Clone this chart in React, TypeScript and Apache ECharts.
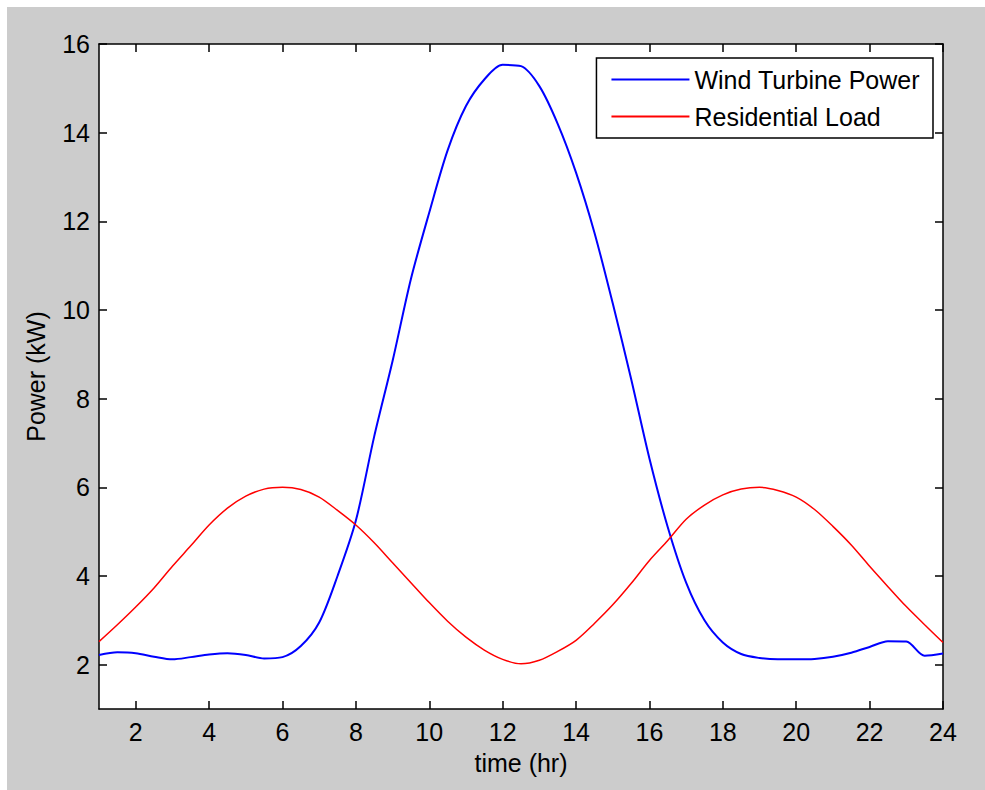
import React, { useEffect, useRef } from "react";
import * as echarts from "echarts";

const hours = [
  1, 1.5, 2, 2.5, 3, 3.5, 4, 4.5, 5, 5.5, 6, 6.5, 7, 7.5, 8, 8.5, 9, 9.5, 10, 10.5, 11, 11.5, 12,
  12.5, 13, 13.5, 14, 14.5, 15, 15.5, 16, 16.5, 17, 17.5, 18, 18.5, 19, 19.5, 20, 20.5, 21, 21.5,
  22, 22.5, 23, 23.5, 24,
];

const windPower = [
  2.22, 2.28, 2.26, 2.18, 2.12, 2.17, 2.23, 2.26, 2.22, 2.14, 2.17, 2.42, 2.95, 4.0, 5.25, 7.15,
  8.85, 10.7, 12.2, 13.6, 14.6, 15.2, 15.53, 15.5, 15.05, 14.2, 13.1, 11.75, 10.15, 8.45, 6.65,
  5.1, 3.85, 3.0, 2.5, 2.24, 2.15, 2.12, 2.12, 2.13, 2.18, 2.27, 2.4, 2.53, 2.52, 2.2, 2.25,
];

const residentialLoad = [
  2.52, 2.9, 3.3, 3.73, 4.22, 4.68, 5.15, 5.53, 5.8, 5.96, 6.0, 5.95, 5.78, 5.48, 5.15, 4.75, 4.3,
  3.85, 3.4, 2.98, 2.62, 2.33, 2.12, 2.02, 2.1, 2.3, 2.55, 2.93, 3.35, 3.83, 4.35, 4.8, 5.28, 5.6,
  5.83, 5.96, 6.0, 5.93, 5.78, 5.5, 5.12, 4.7, 4.22, 3.76, 3.31, 2.9, 2.5,
];

const xTicks = [2, 4, 6, 8, 10, 12, 14, 16, 18, 20, 22, 24];
const yTicks = [2, 4, 6, 8, 10, 12, 14, 16];

const seriesNames = ["Wind Turbine Power", "Residential Load"];

const FONT = "Liberation Sans, Arial, sans-serif";
const FS = 25;

export default function App() {
  const ref = useRef<HTMLDivElement>(null);

  useEffect(() => {
    if (!ref.current) return;
    const chart = echarts.init(ref.current, null, { renderer: "svg" });

    const axisLine = { show: true, lineStyle: { color: "#000", width: 1.5 } };
    const tickStyle = { lineStyle: { color: "#000", width: 1.5 } };

    const xBase = {
      type: "value",
      min: 1,
      max: 24,
      splitLine: { show: false },
      axisLine,
    };
    const yBase = {
      type: "value",
      min: 1,
      max: 16,
      splitLine: { show: false },
      axisLine,
    };

    chart.setOption({
      animation: false,
      backgroundColor: "#cccccc",
      textStyle: { fontFamily: FONT },
      grid: {
        left: 92,
        top: 37,
        right: 42,
        bottom: 81,
        show: true,
        backgroundColor: "#ffffff",
        borderWidth: 0,
      },
      legend: {
        data: seriesNames.map((n) => ({ name: n, icon: "rect" })),
        orient: "vertical",
        right: 52,
        top: 51,
        backgroundColor: "#ffffff",
        borderColor: "#000",
        borderWidth: 1.5,
        borderRadius: 0,
        padding: [9, 13, 9, 15],
        itemWidth: 78,
        itemHeight: 2,
        itemGap: 12,
        itemTextGap: 8,
        textStyle: { fontSize: FS, color: "#000", fontFamily: FONT, lineHeight: 25 },
      },
      xAxis: [
        {
          ...xBase,
          position: "bottom",
          name: "time (hr)",
          nameLocation: "middle",
          nameGap: 41,
          nameTextStyle: { fontSize: FS, color: "#000", fontFamily: FONT },
          axisTick: { show: true, inside: true, length: 8, customValues: xTicks, ...tickStyle },
          axisLabel: {
            show: true,
            customValues: xTicks,
            fontSize: FS,
            color: "#000",
            margin: 10,
            fontFamily: FONT,
          },
        },
        {
          ...xBase,
          position: "top",
          axisTick: { show: true, inside: true, length: 8, customValues: xTicks, ...tickStyle },
          axisLabel: { show: false },
        },
      ],
      yAxis: [
        {
          ...yBase,
          position: "left",
          name: "Power (kW)",
          nameLocation: "middle",
          nameGap: 51,
          nameRotate: 90,
          nameTextStyle: { fontSize: FS, color: "#000", fontFamily: FONT },
          axisTick: { show: true, inside: true, length: 8, customValues: yTicks, ...tickStyle },
          axisLabel: {
            show: true,
            customValues: yTicks,
            fontSize: FS,
            color: "#000",
            margin: 9,
            fontFamily: FONT,
          },
        },
        {
          ...yBase,
          position: "right",
          axisTick: { show: true, inside: true, length: 8, customValues: yTicks, ...tickStyle },
          axisLabel: { show: false },
        },
      ],
      series: [
        {
          name: seriesNames[0],
          type: "line",
          data: hours.map((h, i) => [h, windPower[i]]),
          showSymbol: false,
          symbol: "none",
          smooth: 0.3,
          lineStyle: { color: "#0000ff", width: 2 },
          itemStyle: { color: "#0000ff" },
        },
        {
          name: seriesNames[1],
          type: "line",
          data: hours.map((h, i) => [h, residentialLoad[i]]),
          showSymbol: false,
          symbol: "none",
          smooth: 0.3,
          lineStyle: { color: "#ff0000", width: 1.5 },
          itemStyle: { color: "#ff0000" },
        },
      ],
    });

    return () => chart.dispose();
  }, []);

  return (
    <div style={{ position: "fixed", left: 0, top: 0, width: 985, height: 790, background: "#ffffff" }}>
      <div ref={ref} style={{ position: "absolute", left: 7, top: 7, width: 978, height: 783 }} />
    </div>
  );
}
